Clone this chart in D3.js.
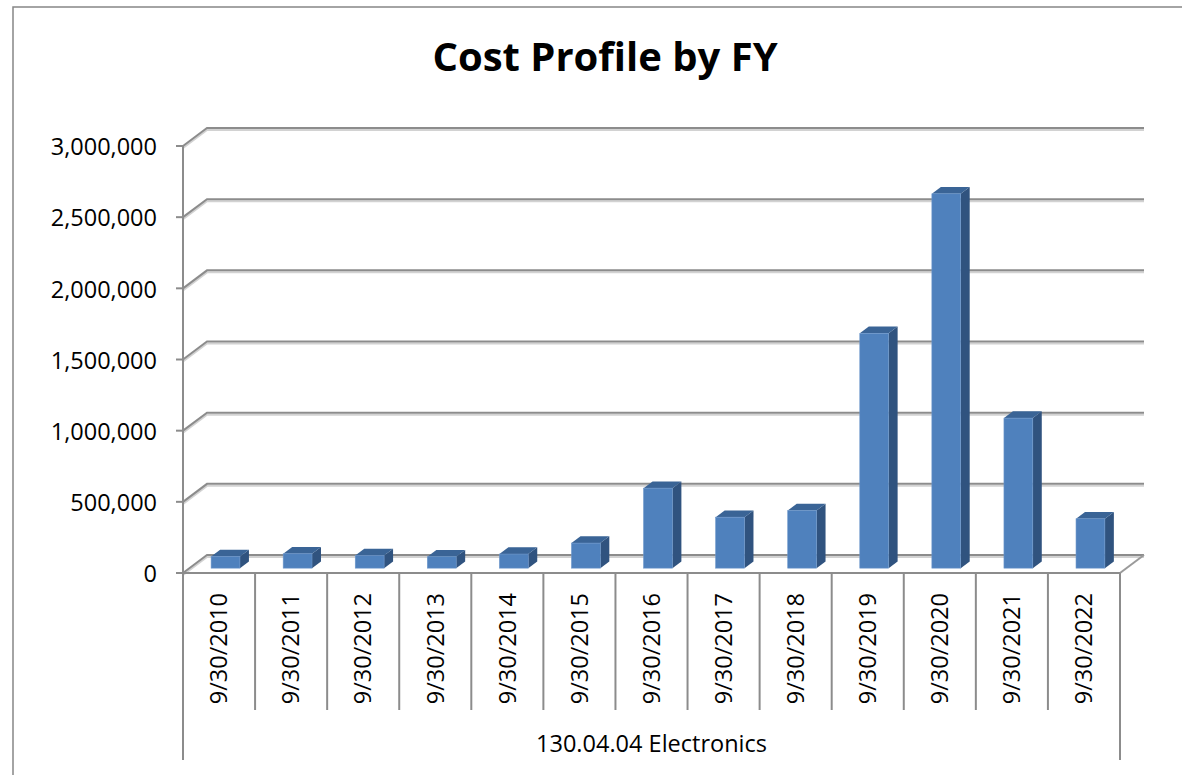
<!DOCTYPE html>
<html>
<head>
<meta charset="utf-8">
<script src="https://cdn.jsdelivr.net/npm/d3@7"></script>
<style>
  body { margin: 0; background: #fff; }
  text { font-family: "Open Sans", "Liberation Sans", Arial, sans-serif; fill: #000; }
</style>
</head>
<body>
<script>
// chart data
const dates = ["9/30/2010", "9/30/2011", "9/30/2012", "9/30/2013", "9/30/2014", "9/30/2015",
  "9/30/2016", "9/30/2017", "9/30/2018", "9/30/2019", "9/30/2020", "9/30/2021", "9/30/2022"];
const costs = [82000, 101000, 89000, 80000, 99000, 176000, 562000, 358000, 405000,
  1650000, 2630000, 1054000, 347000];
const yTicks = [0, 500000, 1000000, 1500000, 2000000, 2500000, 3000000];
const chartTitle = "Cost Profile by FY";
const groupLabel = "130.04.04 Electronics";

const svgWidth = 1182;
const svgHeight = 775;
const plot = { left: 183, right: 1120, bottom: 573, top: 146 };
// oblique depth offset of the 3D box
const depth = { dx: 24, dy: -18 };
const barFront = 0.27, barBack = 0.645;

const svg = d3.select('body').append('svg')
  .attr('width', svgWidth)
  .attr('height', svgHeight);

// outer chart border (left + top only visible)
svg.append('path')
  .attr('d', `M13,${svgHeight} L13,7 L${svgWidth},7`)
  .attr('fill', 'none')
  .attr('stroke', '#878787')
  .attr('stroke-width', 1.5);

svg.append('text')
  .attr('x', 605)
  .attr('y', 71)
  .attr('text-anchor', 'middle')
  .style('font-size', '40px')
  .style('font-weight', 'bold')
  .text(chartTitle);

const yScale = d3.scaleLinear()
  .domain([0, 3000000])
  .range([plot.bottom, plot.top]);

const xScale = d3.scaleBand()
  .domain(dates)
  .range([plot.left, plot.right])
  .paddingInner(0.6)
  .paddingOuter(0.3);

const xCat = d3.scaleBand()
  .domain(dates)
  .range([plot.left, plot.right]);

// gridlines: back wall + left side wall diagonals
const grid = svg.append('g');
function gridPath(v, off) {
  const y = yScale(v) + off;
  return `M${plot.left},${y} L${plot.left + depth.dx},${y + depth.dy} L${plot.right + depth.dx},${y + depth.dy}`;
}
grid.selectAll('path.shadow')
  .data(yTicks)
  .enter().append('path')
  .attr('class', 'shadow')
  .attr('d', d => gridPath(d, 2))
  .attr('fill', 'none')
  .attr('stroke', '#d2d2d2')
  .attr('stroke-width', 2);
grid.selectAll('path.line')
  .data(yTicks)
  .enter().append('path')
  .attr('class', 'line')
  .attr('d', d => gridPath(d, 0))
  .attr('fill', 'none')
  .attr('stroke', '#8c8c8c')
  .attr('stroke-width', 2);

// floor right edge
svg.append('path')
  .attr('d', `M${plot.right},${plot.bottom} L${plot.right + depth.dx},${plot.bottom + depth.dy}`)
  .attr('stroke', '#9a9a9a')
  .attr('stroke-width', 2);

// 3D bars
const bars = svg.append('g').selectAll('g')
  .data(dates.map((d, i) => ({ date: d, value: costs[i] })))
  .enter().append('g');

const bdx = depth.dx * (barBack - barFront);
const bdy = depth.dy * (barBack - barFront);
const xl = d => xScale(d.date) + depth.dx * barFront;
const xr = d => xl(d) + xScale.bandwidth();
const yb = () => yScale(0) + depth.dy * barFront;
const yt = d => yScale(d.value) + depth.dy * barFront;

bars.append('polygon')
  .attr('points', d => [[xr(d), yt(d)], [xr(d) + bdx, yt(d) + bdy], [xr(d) + bdx, yb() + bdy], [xr(d), yb()]].join(' '))
  .attr('fill', '#30537f');
bars.append('polygon')
  .attr('points', d => [[xl(d), yt(d)], [xl(d) + bdx, yt(d) + bdy], [xr(d) + bdx, yt(d) + bdy], [xr(d), yt(d)]].join(' '))
  .attr('fill', '#3a6496');
bars.append('rect')
  .attr('x', d => xl(d))
  .attr('y', d => yt(d))
  .attr('width', xScale.bandwidth())
  .attr('height', d => yb() - yt(d))
  .attr('fill', '#4f81bd')
  .attr('stroke', '#6d97cb')
  .attr('stroke-width', 0.6);

// value axis
const yAxis = svg.append('g');
yAxis.append('line')
  .attr('x1', plot.left).attr('x2', plot.left)
  .attr('y1', plot.top).attr('y2', 760)
  .attr('stroke', '#8c8c8c').attr('stroke-width', 2);
yAxis.selectAll('line.tick')
  .data(yTicks)
  .enter().append('line')
  .attr('class', 'tick')
  .attr('x1', plot.left - 7).attr('x2', plot.left)
  .attr('y1', d => yScale(d)).attr('y2', d => yScale(d))
  .attr('stroke', '#8c8c8c').attr('stroke-width', 2);
yAxis.selectAll('text')
  .data(yTicks)
  .enter().append('text')
  .attr('x', 157)
  .attr('y', d => yScale(d) + 1)
  .attr('dy', '0.35em')
  .attr('text-anchor', 'end')
  .style('font-size', '23.5px')
  .text(d3.format(','));

// category axis
const xAxis = svg.append('g');
xAxis.append('line')
  .attr('x1', plot.left).attr('x2', plot.right)
  .attr('y1', plot.bottom).attr('y2', plot.bottom)
  .attr('stroke', '#8c8c8c').attr('stroke-width', 2);
xAxis.selectAll('line.sep')
  .data(d3.range(dates.length + 1))
  .enter().append('line')
  .attr('class', 'sep')
  .attr('x1', i => plot.left + xCat.step() * i)
  .attr('x2', i => plot.left + xCat.step() * i)
  .attr('y1', plot.bottom)
  .attr('y2', i => (i === 0 || i === dates.length) ? 760 : 710)
  .attr('stroke', '#8c8c8c').attr('stroke-width', 2);
xAxis.selectAll('text')
  .data(dates)
  .enter().append('text')
  .attr('transform', d => `translate(${xCat(d) + xCat.bandwidth() / 2},593) rotate(-90)`)
  .attr('dy', '0.35em')
  .attr('text-anchor', 'end')
  .style('font-size', '23.5px')
  .text(d => d);

svg.append('text')
  .attr('x', (plot.left + plot.right) / 2)
  .attr('y', 752)
  .attr('text-anchor', 'middle')
  .style('font-size', '23.5px')
  .text(groupLabel);
</script>
</body>
</html>
